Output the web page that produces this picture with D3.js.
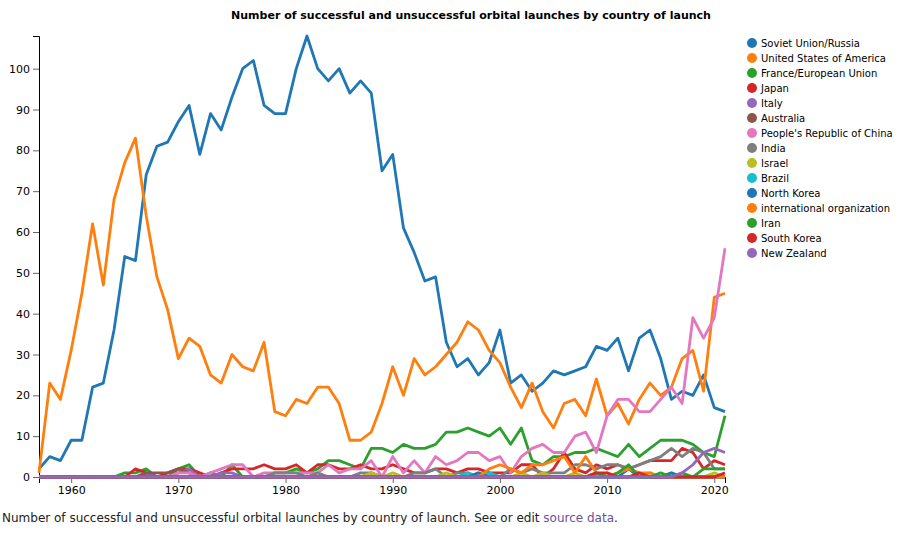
<!DOCTYPE html>
<html>
<head>
<meta charset="utf-8">
<script src="https://cdn.jsdelivr.net/npm/d3@7"></script>
<style>
  body { margin: 0; background: #fff; }
  text { font-family: "DejaVu Sans", sans-serif; }
</style>
</head>
<body>
<svg id="chart" width="906" height="534"></svg>
<script>
// ---- DATA ----
const years = d3.range(1957, 2022);
const countries = [
  "Soviet Union/Russia", "United States of America", "France/European Union", "Japan", "Italy",
  "Australia", "People's Republic of China", "India", "Israel", "Brazil", "North Korea",
  "international organization", "Iran", "South Korea", "New Zealand"
];
// values per year 1957..2021 (10 per group)
const sovietRussia = [2,5,4,9,9,22,23,36,54,53, 74,81,82,87,91,79,89,85,93,100, 102,91,89,89,100,108,100,97,100,94, 97,94,75,79,61,55,48,49,33,27, 29,25,28,36,23,25,21,23,26,25, 26,27,32,31,34,26,34,36,29,19, 21,20,25,17,16];
const usa = [1,23,19,31,45,62,47,68,77,83, 64,49,41,29,34,32,25,23,30,27, 26,33,16,15,19,18,22,22,18,9, 9,11,18,27,20,29,25,27,30,33, 38,36,31,28,22,17,23,16,12,18, 19,15,24,15,18,13,19,23,20,22, 29,31,21,44,45];
const franceEU = [0,0,0,0,0,0,0,0,1,1, 2,0,0,2,3,0,1,0,3,0, 0,0,1,1,2,1,2,4,4,3, 2,7,7,6,8,7,7,8,11,11, 12,11,10,12,8,12,4,3,5,5, 6,6,7,6,5,8,5,7,9,9, 9,8,6,5,15];
const japan = [0,0,0,0,0,0,0,0,0,2, 1,0,1,2,2,1,0,1,2,2, 2,3,2,2,3,1,3,3,2,2, 3,2,2,3,2,1,1,2,2,1, 2,2,1,1,1,3,3,0,2,6, 2,1,3,2,3,2,3,4,4,4, 7,6,2,4,3];
const italy = [0,0,0,0,0,0,0,0,0,0, 1,0,0,1,2,0,0,1,1,0, 0,0,0,0,0,0,0,0,0,0, 0,1,0,0,0,0,0,0,0,0, 0,0,0,0,0,0,0,0,0,0, 0,0,0,0,0,0,0,0,0,0, 0,0,0,0,0];
const australia = [0,0,0,0,0,0,0,0,0,0, 1,1,1,2,1,0,0,0,0,0, 0,0,0,0,0,0,0,0,0,0, 0,0,0,0,0,0,0,0,0,0, 0,0,0,0,0,0,0,0,0,0, 0,0,0,0,0,0,0,0,0,0, 0,0,0,0,0];
const china = [0,0,0,0,0,0,0,0,0,0, 0,0,0,1,1,0,1,2,3,3, 0,1,1,1,1,1,1,3,1,2, 2,4,0,5,1,4,1,5,3,4, 6,6,4,5,1,5,7,8,6,6, 10,11,6,15,19,19,16,16,19,22, 18,39,34,39,56];
const india = [0,0,0,0,0,0,0,0,0,0, 0,0,0,0,0,0,0,0,0,0, 0,0,1,1,1,0,1,0,0,0, 1,1,0,0,0,1,1,2,0,1, 1,0,1,0,2,1,2,1,1,1, 3,3,2,3,3,2,3,4,5,7, 5,7,6,2,2];
const israel = [0,0,0,0,0,0,0,0,0,0, 0,0,0,0,0,0,0,0,0,0, 0,0,0,0,0,0,0,0,0,0, 0,1,0,1,0,0,0,0,1,0, 0,1,0,0,0,1,0,1,0,0, 1,0,0,1,0,0,0,1,0,1, 0,0,0,1,0];
const brazil = [0,0,0,0,0,0,0,0,0,0, 0,0,0,0,0,0,0,0,0,0, 0,0,0,0,0,0,0,0,0,0, 0,0,0,0,0,0,0,0,0,0, 1,0,1,0,0,0,0,0,0,0, 0,0,0,0,0,0,0,0,0,0, 0,0,0,0,0];
const northKorea = [0,0,0,0,0,0,0,0,0,0, 0,0,0,0,0,0,0,0,0,0, 0,0,0,0,0,0,0,0,0,0, 0,0,0,0,0,0,0,0,0,0, 0,1,0,0,0,0,0,0,0,0, 0,0,1,0,0,2,0,0,0,1, 0,0,0,0,0];
const intlOrg = [0,0,0,0,0,0,0,0,0,0, 0,0,0,0,0,0,0,0,0,0, 0,0,0,0,0,0,0,0,0,0, 0,0,0,0,0,0,0,0,0,0, 0,0,2,3,2,1,3,3,4,5, 1,5,1,0,1,2,1,1,0,0, 0,0,0,0,0];
const iran = [0,0,0,0,0,0,0,0,0,0, 0,0,0,0,0,0,0,0,0,0, 0,0,0,0,0,0,0,0,0,0, 0,0,0,0,0,0,0,0,0,0, 0,0,0,0,0,0,0,0,0,0, 0,0,1,0,1,3,0,0,1,0, 1,0,2,2,2];
const southKorea = [0,0,0,0,0,0,0,0,0,0, 0,0,0,0,0,0,0,0,0,0, 0,0,0,0,0,0,0,0,0,0, 0,0,0,0,0,0,0,0,0,0, 0,0,0,0,0,0,0,0,0,0, 0,0,1,1,0,0,1,0,0,0, 0,0,0,0,1];
const newZealand = [0,0,0,0,0,0,0,0,0,0, 0,0,0,0,0,0,0,0,0,0, 0,0,0,0,0,0,0,0,0,0, 0,0,0,0,0,0,0,0,0,0, 0,0,0,0,0,0,0,0,0,0, 0,0,0,0,0,0,0,0,0,0, 1,3,6,7,6];
const yTicks = [0,10,20,30,40,50,60,70,80,90,100];
const xTicks = [1960,1970,1980,1990,2000,2010,2020];
const titleText = "Number of successful and unsuccessful orbital launches by country of launch";

const seriesValues = [sovietRussia, usa, franceEU, japan, italy, australia, china, india, israel,
  brazil, northKorea, intlOrg, iran, southKorea, newZealand];
const series = countries.map((name, i) => ({ name, values: seriesValues[i].map((v, j) => ({ year: years[j], v })) }));

// ---- LAYOUT ----
const svg = d3.select("#chart");
const x0 = 39, x1 = 725, yTop = 36, yBottom = 477;
const x = d3.scaleLinear().domain([d3.min(years), d3.max(years)]).range([x0, x1]);
const yMax = d3.max(seriesValues, s => d3.max(s));
const y = d3.scaleLinear().domain([0, yMax]).range([yBottom, yTop]);
const color = d3.scaleOrdinal(d3.schemeCategory10).domain(countries);

// title
svg.append("text").attr("x", 471).attr("y", 19).attr("text-anchor", "middle")
  .attr("font-size", 11).attr("font-weight", "bold").text(titleText);

// axes
const gx = svg.append("g").attr("transform", `translate(0,${yBottom})`)
  .call(d3.axisBottom(x).tickValues(xTicks).tickFormat(d3.format("d")));
const gy = svg.append("g").attr("transform", `translate(${x0},0)`)
  .call(d3.axisLeft(y).tickValues(yTicks));
[gx, gy].forEach(g => {
  g.selectAll("text").attr("font-size", 11).attr("font-family", "DejaVu Sans, sans-serif").attr("fill", "#000");
  g.selectAll(".tick line").attr("stroke", "#666");
  g.select(".domain").attr("stroke", "#000");
});

// lines
const line = d3.line().x(d => x(d.year)).y(d => y(d.v));
svg.append("g").selectAll("path").data(series).join("path")
  .attr("fill", "none")
  .attr("stroke", d => color(d.name))
  .attr("stroke-width", 2.8)
  .attr("stroke-linejoin", "round")
  .attr("d", d => line(d.values));

// legend
const lg = svg.append("g");
const items = lg.selectAll("g").data(countries).join("g")
  .attr("transform", (d, i) => `translate(752,${43 + i * 15})`);
items.append("circle").attr("r", 5).attr("fill", d => color(d));
items.append("text").attr("x", 9).attr("dy", "0.35em").attr("font-size", 10).text(d => d);

// caption
const cap = svg.append("text").attr("x", 2).attr("y", 522).attr("font-size", 12).attr("fill", "#222");
cap.append("tspan").text(titleText + ". See or edit ");
cap.append("tspan").attr("fill", "#6b4f9e").text("source data");
cap.append("tspan").text(".");
</script>
</body>
</html>
